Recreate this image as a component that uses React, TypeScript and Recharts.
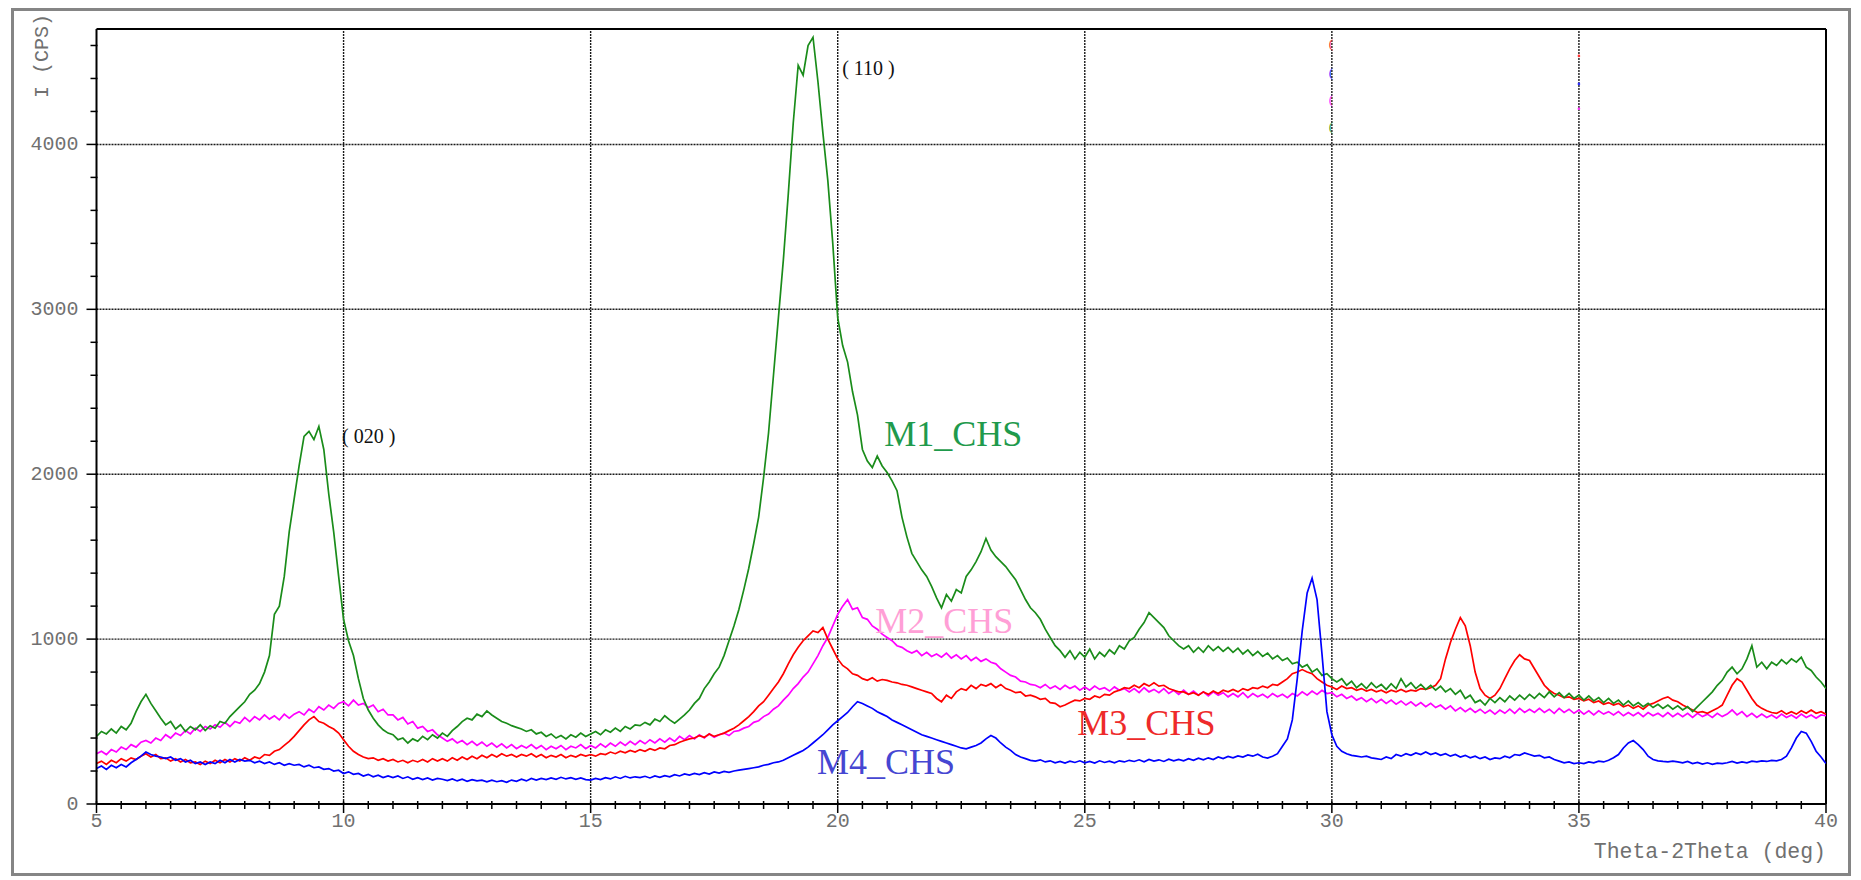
import { LineChart, Line, XAxis, YAxis, ReferenceLine, ReferenceDot } from 'recharts'

// 2theta scan, 5..40 deg, one reading every 0.1 deg
const thetaStart = 5
const thetaStep = 0.1

const m1Chs = [
  410, 440, 425, 455, 430, 470, 450, 490, 560, 620,
  665, 610, 565, 520, 480, 500, 455, 480, 440, 470,
  450, 480, 445, 475, 460, 500, 490, 530, 560, 590,
  620, 665, 690, 730, 800, 900, 1150, 1200, 1380, 1650,
  1850, 2050, 2230, 2260, 2210, 2290, 2150, 1880, 1650, 1380,
  1120, 990, 900, 760, 640, 570, 520, 480, 450, 430,
  420, 390, 400, 370, 395, 380, 410, 390, 420, 400,
  430, 410, 445, 470, 500, 520, 510, 545, 530, 565,
  540, 520, 500, 490, 475, 465, 455, 440, 450, 425,
  435, 410, 425, 400, 415, 395, 420, 405, 430, 410,
  425, 440, 420, 450, 435, 460, 440, 470, 455, 480,
  475, 495, 480, 515, 500, 535, 510, 490, 515, 540,
  570, 610, 640, 700, 740, 790, 830, 900, 990, 1080,
  1180, 1300, 1430, 1580, 1740, 1980, 2250, 2600, 2950, 3300,
  3700, 4130, 4480, 4420, 4600, 4650, 4380, 4070, 3780, 3400,
  2950, 2780, 2680, 2500, 2360, 2150, 2080, 2040, 2110, 2050,
  2010, 1960, 1900, 1740, 1620, 1520, 1470, 1420, 1380, 1320,
  1250, 1190, 1270, 1230, 1300, 1280, 1380, 1420, 1470, 1530,
  1610, 1540, 1500, 1470, 1440, 1400, 1360, 1300, 1240, 1190,
  1160, 1120, 1060, 1010, 960, 930, 890, 930, 880, 920,
  890, 940, 880, 920, 895, 935, 910, 960, 940, 990,
  1010, 1060, 1100, 1160, 1130, 1100, 1070, 1020, 990, 960,
  940, 960, 920, 950, 920, 960, 930, 955, 925, 950,
  920, 945, 910, 935, 900, 925, 895, 915, 880, 900,
  870, 885, 850, 860, 830, 845, 800, 820, 780, 790,
  760, 740, 760, 720, 745, 705, 730, 700, 735, 705,
  725, 695, 730, 700, 760, 710, 735, 700, 725, 695,
  720, 690, 715, 680, 700, 665, 690, 640, 660, 615,
  630, 600, 640, 615, 645, 620, 655, 630, 660, 635,
  665, 640, 670, 645, 680, 650, 675, 645, 670, 640,
  660, 630, 655, 625, 645, 615, 640, 610, 630, 600,
  625, 595, 615, 590, 610, 585, 605, 580, 600, 575,
  595, 570, 590, 560, 590, 620, 650, 680, 720, 750,
  800, 830, 790, 820, 880, 960, 830, 860, 820, 860,
  840, 875, 850, 880, 860, 890, 830, 810, 770, 740,
  700,
]

const m2Chs = [
  305, 320, 300, 330, 315, 345, 330, 360, 345, 375,
  385, 370, 400, 385, 420, 400, 430, 415, 445, 425,
  460, 440, 470, 455, 480, 465, 495, 470, 500, 490,
  525, 500, 530, 510, 540, 515, 535, 510, 545, 520,
  545, 560, 540, 575, 555, 590, 570, 600, 580, 610,
  620, 595, 630, 600, 610, 585, 600, 560, 575, 540,
  540, 510, 525, 485, 500, 460, 470, 440, 450, 420,
  400, 380, 395, 370, 385, 360, 380, 355, 375, 350,
  370, 345, 365, 340, 360, 335, 355, 340, 360, 335,
  355, 330, 350, 335, 355, 330, 350, 340, 360, 335,
  355, 340, 365, 345, 370, 350, 375, 355, 380, 360,
  385, 365, 390, 370, 395, 375, 400, 380, 410, 390,
  415, 395, 420, 400, 425, 405, 420, 430, 415, 440,
  445, 460, 470, 495, 505, 530, 545, 575, 595, 630,
  660, 700, 730, 770, 800, 850, 900, 960, 1010, 1080,
  1150, 1200, 1240, 1180, 1190, 1130, 1120, 1080, 1060, 1030,
  1010, 990, 960, 950, 930, 915, 930, 900, 920, 895,
  910, 890, 915, 885, 905, 880, 900, 870, 890, 865,
  880, 860, 850, 820, 800, 780, 770, 745, 740, 725,
  720, 705, 725, 700, 715, 695, 720, 700, 715, 690,
  710, 690, 715, 695, 705, 685, 710, 690, 700, 680,
  700, 675, 705, 680, 695, 675, 700, 670, 690, 665,
  690, 665, 685, 660, 680, 655, 680, 660, 675, 650,
  670, 650, 675, 645, 670, 650, 665, 645, 670, 650,
  665, 645, 670, 655, 680, 660, 685, 665, 690, 670,
  675, 650, 665, 640, 655, 630, 645, 620, 640, 615,
  635, 610, 630, 605, 625, 600, 620, 595, 615, 590,
  610, 585, 600, 575, 595, 565, 585, 560, 580, 555,
  575, 550, 570, 545, 570, 550, 575, 550, 580, 555,
  575, 555, 580, 555, 575, 550, 580, 555, 575, 550,
  570, 545, 565, 540, 565, 545, 560, 540, 560, 535,
  555, 535, 555, 530, 555, 535, 550, 530, 555, 530,
  550, 530, 550, 525, 550, 530, 545, 525, 550, 530,
  545, 570, 540, 560, 530, 550, 525, 545, 525, 540,
  520, 545, 525, 540, 520, 545, 525, 540, 520, 540,
  535,
]

const m3Chs = [
  245, 260, 240, 265, 250, 275, 260, 280, 270, 290,
  305, 285, 300, 275, 280, 260, 275, 255, 270, 250,
  255, 240, 260, 245, 265, 250, 270, 255, 275, 260,
  280, 265, 285, 275, 300, 295, 320, 330, 355, 380,
  410, 445, 480, 510, 530, 500, 490, 470, 455, 430,
  390, 350, 320, 300, 285, 275, 280, 265, 275, 260,
  270, 255, 265, 250, 265, 255, 270, 255, 275, 260,
  275, 260, 280, 265, 285, 270, 290, 275, 295, 280,
  300, 285, 305, 290, 300, 285, 300, 290, 305, 285,
  300, 280, 295, 285, 300, 280, 295, 285, 300, 290,
  300, 290, 305, 300, 315, 305, 320, 310, 325, 315,
  330, 320, 335, 325, 340, 335, 355, 360, 375, 385,
  395, 400, 415, 405, 425, 410, 420, 430, 445, 460,
  480, 505, 530, 560, 595, 620, 660, 700, 740, 790,
  850, 905, 950, 990, 1020, 1050, 1040, 1070, 1000, 940,
  880, 840, 820, 790, 780, 760, 750, 765, 745, 755,
  750, 740, 735, 725, 720, 710, 700, 690, 680, 670,
  640, 620, 660, 640, 680, 700, 690, 720, 700, 725,
  715, 730, 705, 725, 700, 690, 675, 680, 655, 660,
  650, 635, 640, 615, 610, 590, 600, 615, 630, 625,
  640, 635, 655, 645, 665, 660, 680, 690, 705, 700,
  720, 705, 730, 715, 735, 715, 720, 700, 690, 680,
  680, 665, 675, 660, 680, 665, 685, 670, 690, 680,
  695, 680, 700, 690, 705, 700, 715, 705, 725, 720,
  740, 760, 790, 800, 815, 800, 790, 760, 740, 720,
  710, 695, 715, 700, 705, 690, 700, 685, 695, 680,
  690, 675, 690, 680, 695, 680, 690, 685, 700, 695,
  705, 720, 760, 880, 980, 1060, 1130, 1080, 960, 800,
  700, 660, 640, 660, 700, 760, 820, 870, 905, 880,
  870, 820, 770, 720, 690, 670, 660, 645, 650, 635,
  640, 625, 635, 615, 625, 605, 615, 600, 610, 590,
  600, 580, 595, 575, 600, 610, 625, 640, 650, 630,
  620, 600, 585, 570, 555, 560, 550, 565, 580, 600,
  660, 720, 760, 740, 690, 640, 600, 580, 565, 555,
  550, 565, 545, 560, 545, 565, 550, 570, 550, 560,
  545,
]

const m4Chs = [
  215, 230, 210, 235, 220, 240, 225, 250, 270, 290,
  315, 300, 290, 285, 275, 285, 265, 275, 255, 265,
  245, 255, 240, 255, 245, 265, 250, 270, 255, 270,
  260, 265, 250, 260, 245, 255, 240, 250, 235, 245,
  235, 240, 225, 235, 220, 225, 210, 215, 200, 205,
  185, 195, 180, 185, 170, 180, 165, 175, 160, 170,
  160, 170, 155, 165, 150, 160, 148, 158, 145, 155,
  150, 142, 152, 140, 150, 138, 148, 140, 145, 135,
  145, 135, 142, 132, 145, 138, 150, 140, 155, 145,
  155, 148, 158, 150, 162, 152, 160, 150, 158, 148,
  145, 155, 148, 160, 152, 165, 155, 168, 158, 165,
  160, 168, 158, 170, 162, 172, 165, 178, 170, 182,
  175, 185, 178, 190, 182, 195, 188, 198, 192, 200,
  205, 210, 215, 220, 225, 235, 240, 250, 255, 265,
  280, 295, 310, 325, 345, 370, 395, 420, 450, 480,
  505, 530, 555, 590, 620, 610, 595, 580, 560, 545,
  530, 510, 495, 480, 465, 450, 435, 420, 410, 400,
  390, 380, 370, 360, 350, 340, 335, 345, 355, 370,
  395, 415, 400, 370, 345, 325, 300, 285, 275, 265,
  260, 268, 255, 262, 250, 258, 248, 260, 252, 262,
  250, 258, 248, 262, 252, 260, 250, 262, 255, 265,
  258, 268, 256, 270, 260, 268, 258, 272, 262, 270,
  262, 275, 265, 278, 268, 280, 270, 285, 275, 288,
  280, 292, 285, 298, 290, 302, 285, 278, 290, 305,
  350, 395, 510, 760, 1050, 1280, 1370, 1240, 910, 560,
  420, 350, 320, 305, 295, 290, 285, 290, 280, 275,
  270, 285, 275, 300, 290, 305, 295, 310, 300, 315,
  300, 310, 295, 305, 290, 300, 285, 295, 280, 290,
  275, 285, 270, 280, 275, 290, 280, 300, 295, 310,
  300, 290, 295, 280, 285, 270, 260, 250, 255, 245,
  250, 245, 255, 250, 260, 255, 265, 280, 300, 340,
  370, 385, 360, 330, 290, 270, 262, 258, 255, 260,
  255, 250, 258, 245, 252, 242, 250, 240, 248, 245,
  250, 258, 248, 255, 250, 260, 255, 262, 258, 265,
  262, 270, 290, 340, 400, 440, 430, 380, 320, 285,
  245,
]

const xMajor = [5, 10, 15, 20, 25, 30, 35, 40]
const xGrid = [10, 15, 20, 25, 30, 35]
const yGrid = [1000, 2000, 3000, 4000]

const seriesLabels = [
  { name: 'M1_CHS', theta: 20.94, cps: 2246, color: '#1f9a4c' },
  { name: 'M2_CHS', theta: 20.76, cps: 1107, color: '#ff9fd6' },
  { name: 'M3_CHS', theta: 24.85, cps: 493, color: '#ee2a2a' },
  { name: 'M4_CHS', theta: 19.58, cps: 253, color: '#4646d2' },
]

const peakLabels = [
  { text: '( 020 )', theta: 9.97, cps: 2234 },
  { text: '( 110 )', theta: 20.09, cps: 4465 },
]

// little marker glyphs the software leaves near the top at 30 and 35 deg
const markers30 = [
  { cps: 4610, color: '#ff3030' },
  { cps: 4434, color: '#3030ff' },
  { cps: 4270, color: '#ff30ff' },
  { cps: 4107, color: '#30a030' },
]
const markers35 = [
  { cps: 4537, color: '#ff3030' },
  { cps: 4367, color: '#3030ff' },
  { cps: 4216, color: '#ff30ff' },
]

const lineColors = { m1: '#1a8c1a', m2: '#ff00ff', m3: '#ff0000', m4: '#0000ff' }

const data = m1Chs.map((v, i) => ({
  theta: Math.round((thetaStart + i * thetaStep) * 10) / 10,
  m1: v,
  m2: m2Chs[i],
  m3: m3Chs[i],
  m4: m4Chs[i],
}))

const xTicks = Array.from({ length: 71 }, (_, i) => 5 + i * 0.5)
const yTicks = Array.from({ length: 24 }, (_, i) => i * 200)

const mono = '"Liberation Mono", "DejaVu Sans Mono", monospace'
const serif = '"Liberation Serif", "DejaVu Serif", serif'
const tickGrey = '#707070'

function XTick({ x, y, payload }: any) {
  const v = payload.value
  const major = xMajor.includes(v)
  return (
    <g>
      <line x1={x} x2={x} y1={y - 3} y2={y + (major ? 9 : 5)} stroke="#000" strokeWidth={1.5} />
      {major && (
        <text x={x} y={y + 17} textAnchor="middle" dominantBaseline="central" fontFamily={mono} fontSize={20} fill={tickGrey}>
          {v}
        </text>
      )}
    </g>
  )
}

function YTick({ x, y, payload }: any) {
  const v = payload.value
  const major = v % 1000 === 0
  return (
    <g>
      <line x1={x - (major ? 10 : 6)} x2={x + 1} y1={y} y2={y} stroke="#000" strokeWidth={1.5} />
      {major && (
        <text x={x - 18} y={y} textAnchor="end" dominantBaseline="central" fontFamily={mono} fontSize={20} fill={tickGrey}>
          {v}
        </text>
      )}
    </g>
  )
}

export default function App() {
  return (
    <div style={{ position: 'relative', width: 1845, height: 870, background: '#fff' }}>
      <div
        style={{
          position: 'absolute',
          left: 3,
          top: 0,
          width: 1840,
          height: 868,
          border: '3px solid #858585',
          boxSizing: 'border-box',
        }}
      />
      <div style={{ position: 'absolute', left: 0, top: 0 }}>
        <LineChart width={1845} height={864} data={data} margin={{ top: 21, right: 27, bottom: 28, left: 8 }}>
          <XAxis
            dataKey="theta"
            type="number"
            domain={[5, 40]}
            ticks={xTicks}
            interval={0}
            tick={<XTick />}
            tickLine={false}
            tickSize={0}
            tickMargin={0}
            height={40}
            axisLine={{ stroke: '#000', strokeWidth: 2 }}
            allowDataOverflow
          />
          <YAxis
            type="number"
            domain={[0, 4700]}
            ticks={yTicks}
            interval={0}
            tick={<YTick />}
            tickLine={false}
            tickSize={0}
            tickMargin={0}
            width={80.5}
            axisLine={{ stroke: '#000', strokeWidth: 2 }}
            allowDataOverflow
          />
          {xGrid.map((g) => (
            <ReferenceLine key={'vx' + g} x={g} stroke="#1a1a1a" strokeWidth={1.4} strokeDasharray="2 1" />
          ))}
          {yGrid.map((g) => (
            <ReferenceLine key={'hy' + g} y={g} stroke="#1a1a1a" strokeWidth={1.4} strokeDasharray="2 1" />
          ))}
          <ReferenceLine y={4700} stroke="#000" strokeWidth={2} />
          <ReferenceLine x={40} stroke="#000" strokeWidth={2} />

          <Line type="linear" dataKey="m2" stroke={lineColors.m2} strokeWidth={1.7} dot={false} isAnimationActive={false} />
          <Line type="linear" dataKey="m3" stroke={lineColors.m3} strokeWidth={1.7} dot={false} isAnimationActive={false} />
          <Line type="linear" dataKey="m1" stroke={lineColors.m1} strokeWidth={1.7} dot={false} isAnimationActive={false} />
          <Line type="linear" dataKey="m4" stroke={lineColors.m4} strokeWidth={1.7} dot={false} isAnimationActive={false} />

          {markers30.map((m) => (
            <ReferenceDot
              key={'m30' + m.cps}
              x={30}
              y={m.cps}
              r={0}
              shape={(p: any) => (
                <text x={p.cx - 3} y={p.cy} dominantBaseline="central" fontFamily={serif} fontSize={13} fill={m.color}>
                  (
                </text>
              )}
            />
          ))}
          {markers35.map((m) => (
            <ReferenceDot key={'m35' + m.cps} x={35} y={m.cps} r={1.3} fill={m.color} stroke="none" />
          ))}

          {peakLabels.map((l) => (
            <ReferenceDot
              key={l.text}
              x={l.theta}
              y={l.cps}
              r={0}
              shape={(p: any) => (
                <text x={p.cx} y={p.cy} dominantBaseline="central" fontFamily={serif} fontSize={20} fill="#111" style={{ whiteSpace: 'pre' }}>
                  {l.text}
                </text>
              )}
            />
          ))}
          {seriesLabels.map((l) => (
            <ReferenceDot
              key={l.name}
              x={l.theta}
              y={l.cps}
              r={0}
              shape={(p: any) => (
                <text x={p.cx} y={p.cy} dominantBaseline="central" fontFamily={serif} fontSize={36} fill={l.color}>
                  {l.name}
                </text>
              )}
            />
          ))}
        </LineChart>
      </div>
      <div
        style={{
          position: 'absolute',
          left: 34,
          top: 48,
          transform: 'translate(-50%, -50%) rotate(-90deg)',
          fontFamily: mono,
          fontSize: 20,
          color: tickGrey,
          whiteSpace: 'nowrap',
        }}
      >
        I (CPS)
      </div>
      <div
        style={{
          position: 'absolute',
          right: 27,
          top: 831,
          lineHeight: '26px',
          fontFamily: mono,
          fontSize: 21.5,
          color: tickGrey,
          whiteSpace: 'nowrap',
        }}
      >
        Theta-2Theta (deg)
      </div>
    </div>
  )
}
